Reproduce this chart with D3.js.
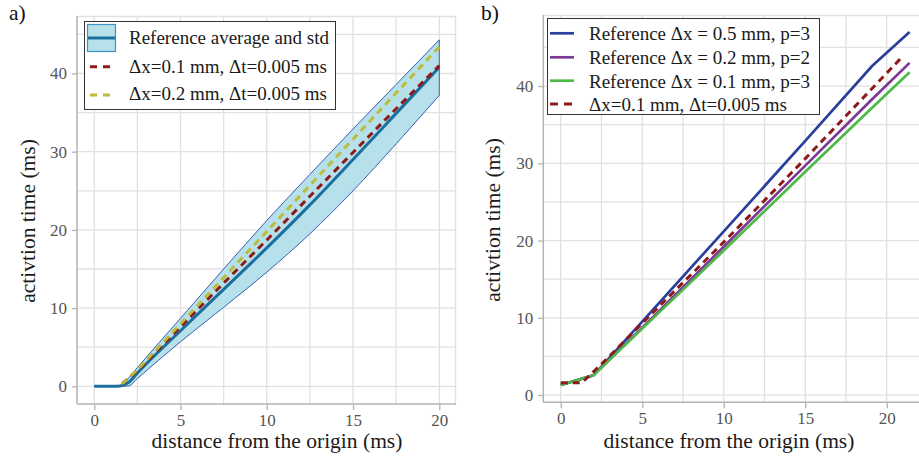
<!DOCTYPE html>
<html><head><meta charset="utf-8">
<script src="https://cdn.jsdelivr.net/npm/d3@7"></script>
<style>
html,body{margin:0;padding:0;background:#fff;}
svg{display:block;font-family:"Liberation Serif","Times New Roman",serif;}
svg text{font-family:"Liberation Serif","Times New Roman",serif;}
</style></head>
<body><svg id="c" width="919" height="460"></svg>
<script>
// ---------- data ----------
// panel a)
const xA = [0, 1, 1.5, 2, 2.5, 5, 7.5, 10, 12.5, 15, 17.5, 20];
const meanA = [0, 0, 0.05, 0.5, 1.7, 7.1, 12.4, 17.7, 23.2, 29.0, 34.9, 40.8];
const upperA = [0, 0, 0, 1.1, 2.4, 8.7, 15.0, 21.2, 27.1, 32.9, 38.6, 44.3];
const lowerA = [0, 0, 0, 0.05, 1.0, 5.7, 10.1, 14.6, 19.5, 25.0, 31.0, 37.2];
const xDashA = [1.6, 2.5, 5, 7.5, 10, 12.5, 15, 17.5, 20];
const red01A = [0.3, 2.0, 7.6, 13.2, 18.7, 24.3, 29.9, 35.5, 41.0];
const olive02A = [0.3, 2.1, 8.0, 13.9, 19.8, 25.7, 31.6, 37.5, 43.4];
// panel b)
const xB = [0, 2, 5, 10, 15, 19.1, 21.4];
const blueB = [1.3, 2.55, 9.5, 21.2, 32.9, 42.6, 47.0];
const purpleB = [1.3, 2.55, 8.7, 19.2, 29.7, 38.3, 43.0];
const greenB = [1.3, 2.55, 8.6, 18.7, 28.9, 37.2, 41.8];
const xRedB = [0, 1.3, 2.5, 5, 10, 15, 21];
const redB = [1.6, 1.6, 4.0, 9.3, 19.8, 30.6, 43.9];
// ticks & labels
const xTicks = [0, 5, 10, 15, 20];
const yTicks = [0, 10, 20, 30, 40];
const xGrid = [0, 2.5, 5, 7.5, 10, 12.5, 15, 17.5, 20, 22.5];
const yGrid = [0, 5, 10, 15, 20, 25, 30, 35, 40, 45];
const xTitle = "distance from the origin (ms)";
const yTitle = "activtion time (ms)";
const legendA = ["Reference average and std", "\u0394x=0.1 mm, \u0394t=0.005 ms", "\u0394x=0.2 mm, \u0394t=0.005 ms"];
const legendB = ["Reference \u0394x = 0.5 mm, p=3", "Reference \u0394x = 0.2 mm, p=2", "Reference \u0394x = 0.1 mm, p=3", "\u0394x=0.1 mm, \u0394t=0.005 ms"];

const FONT = '"Liberation Serif","Times New Roman",serif';
const C = {band:"#b6e1ea", bandEdge:"#3a5fb3", mean:"#1b6f9e", red:"#8e1b1b", olive:"#bcbc3c",
           blue:"#2b3f9c", purple:"#7b3a96", green:"#4fba4a", grid:"#e1e1e1", axis:"#b3b3b3", tick:"#555"};

const svg = d3.select("#c");

function panel(o){
  const g = svg.append("g");
  const x = d3.scaleLinear().domain(o.xd).range(o.xr);
  const y = d3.scaleLinear().domain(o.yd).range(o.yr);
  const [x0,x1] = o.xr, [y1,y0] = o.yr;
  const clipId = "clip"+o.id;
  svg.append("clipPath").attr("id",clipId).append("rect")
     .attr("x",x0).attr("y",y0).attr("width",x1-x0).attr("height",y1-y0);
  const gg = g.append("g").attr("clip-path",`url(#${clipId})`);
  gg.selectAll(".gx").data(xGrid).join("line").attr("x1",d=>x(d)).attr("x2",d=>x(d))
    .attr("y1",y0).attr("y2",y1).attr("stroke",C.grid).attr("stroke-width",1.3);
  gg.selectAll(".gy").data(yGrid).join("line").attr("y1",d=>y(d)).attr("y2",d=>y(d))
    .attr("x1",x0).attr("x2",x1).attr("stroke",C.grid).attr("stroke-width",1.3);
  g.append("line").attr("x1",x0).attr("x2",x1).attr("y1",y0+0.5).attr("y2",y0+0.5).attr("stroke",C.grid).attr("stroke-width",1.3);
  g.append("line").attr("x1",x1-0.5).attr("x2",x1-0.5).attr("y1",y0).attr("y2",y1).attr("stroke",C.grid).attr("stroke-width",1.3);
  const ax = g.append("g").attr("transform",`translate(0,${y1})`)
    .call(d3.axisBottom(x).tickValues(xTicks).tickSize(6).tickPadding(4).tickFormat(d3.format("d")));
  const ay = g.append("g").attr("transform",`translate(${x0},0)`)
    .call(d3.axisLeft(y).tickValues(yTicks).tickSize(5).tickPadding(5).tickFormat(d3.format("d")));
  [ax,ay].forEach(a=>{
    a.attr("font-family",FONT).attr("font-size",17);
    a.select(".domain").remove();
    a.selectAll("line").attr("stroke",C.axis).attr("stroke-width",1.3);
    a.selectAll("text").attr("fill",C.tick);
  });
  g.append("line").attr("x1",x0).attr("x2",x1).attr("y1",y1).attr("y2",y1).attr("stroke",C.axis).attr("stroke-width",1.5);
  g.append("line").attr("x1",x0).attr("x2",x0).attr("y1",y0).attr("y2",y1).attr("stroke",C.axis).attr("stroke-width",1.5);
  svg.append("text").attr("x",o.xtx).attr("y",448).attr("text-anchor","middle")
     .style("font-size","21.5px").attr("fill","#1a1a1a").text(xTitle);
  svg.append("text").attr("transform",`translate(${o.ytx},${o.yty}) rotate(-90)`).attr("text-anchor","middle")
     .style("font-size","21.5px").attr("fill","#1a1a1a").text(yTitle);
  svg.append("text").attr("x",o.lx).attr("y",20).style("font-size","21.5px").attr("fill","#111").text(o.label);
  const plot = g.append("g").attr("clip-path",`url(#${clipId})`);
  return {x,y,plot};
}

// ---------- panel a ----------
const A = panel({id:"a", xd:[-1,20.97], xr:[77,456], yd:[-2.26,47.35], yr:[404,16],
                 xtx:277, ytx:35, yty:221, lx:9, label:"a)"});
const bandData = xA.map((d,i)=>({x:d, lo:lowerA[i], hi:upperA[i]}));
A.plot.append("path").datum(bandData)
  .attr("d", d3.area().curve(d3.curveMonotoneX).x(d=>A.x(d.x)).y0(d=>A.y(d.lo)).y1(d=>A.y(d.hi)))
  .attr("fill",C.band).attr("stroke",C.bandEdge).attr("stroke-width",1);
const lineA = d3.line().x(d=>A.x(d[0])).y(d=>A.y(d[1]));
const lineAs = d3.line().curve(d3.curveMonotoneX).x(d=>A.x(d[0])).y(d=>A.y(d[1]));
A.plot.append("path").datum(xA.map((d,i)=>[d,meanA[i]])).attr("d",lineAs)
  .attr("fill","none").attr("stroke",C.mean).attr("stroke-width",3);
A.plot.append("path").datum(xDashA.map((d,i)=>[d,red01A[i]])).attr("d",lineA)
  .attr("fill","none").attr("stroke",C.red).attr("stroke-width",3).attr("stroke-dasharray","7,5");
A.plot.append("path").datum(xDashA.map((d,i)=>[d,olive02A[i]])).attr("d",lineA)
  .attr("fill","none").attr("stroke",C.olive).attr("stroke-width",3).attr("stroke-dasharray","7,5");

// legend a
const LA = svg.append("g");
LA.append("rect").attr("x",84.5).attr("y",21.5).attr("width",251).attr("height",88)
  .attr("fill","#fff").attr("stroke","#333").attr("stroke-width",1);
LA.append("rect").attr("x",87.5).attr("y",24.5).attr("width",28).attr("height",27)
  .attr("fill",C.band).attr("stroke","#3c93c5").attr("stroke-width",1.2);
LA.append("line").attr("x1",88).attr("x2",115).attr("y1",38).attr("y2",38).attr("stroke",C.mean).attr("stroke-width",3);
LA.append("line").attr("x1",90).attr("x2",115).attr("y1",66.7).attr("y2",66.7).attr("stroke",C.red).attr("stroke-width",3).attr("stroke-dasharray","7,6");
LA.append("line").attr("x1",90).attr("x2",115).attr("y1",95).attr("y2",95).attr("stroke",C.olive).attr("stroke-width",3).attr("stroke-dasharray","7,6");
[44,72.5,100].forEach((yy,i)=>LA.append("text").attr("x",129).attr("y",yy).style("font-size","19px").attr("fill","#1a1a1a").text(legendA[i]));

// ---------- panel b ----------
const B = panel({id:"b", xd:[-1.07,22.37], xr:[543.3,925.4], yd:[-0.94,49.2], yr:[402.3,15],
                 xtx:729, ytx:500, yty:220, lx:481, label:"b)"});
const lineB = d3.line().x(d=>B.x(d[0])).y(d=>B.y(d[1]));
[[blueB,C.blue],[purpleB,C.purple],[greenB,C.green]].forEach(([arr,col])=>{
  B.plot.append("path").datum(xB.map((d,i)=>[d,arr[i]])).attr("d",lineB)
    .attr("fill","none").attr("stroke",col).attr("stroke-width",2.7);
});
B.plot.append("path").datum(xRedB.map((d,i)=>[d,redB[i]])).attr("d",lineB)
  .attr("fill","none").attr("stroke",C.red).attr("stroke-width",3).attr("stroke-dasharray","7,5");

// legend b
const LB = svg.append("g");
LB.append("rect").attr("x",547.5).attr("y",18.5).attr("width",272).attr("height",96)
  .attr("fill","#fff").attr("stroke","#333").attr("stroke-width",1);
const lbY = [33.3,57.3,80.7,104];
const lbC = [C.blue,C.purple,C.green,C.red];
lbY.forEach((yy,i)=>{
  const l = LB.append("line").attr("x1",550).attr("x2",574).attr("y1",yy).attr("y2",yy)
    .attr("stroke",lbC[i]).attr("stroke-width",i===3?3:2.7);
  if(i===3) l.attr("stroke-dasharray","8,6");
  LB.append("text").attr("x",589).attr("y",yy+7).style("font-size","19px").attr("fill","#1a1a1a").text(legendB[i]);
});
</script></body></html>
